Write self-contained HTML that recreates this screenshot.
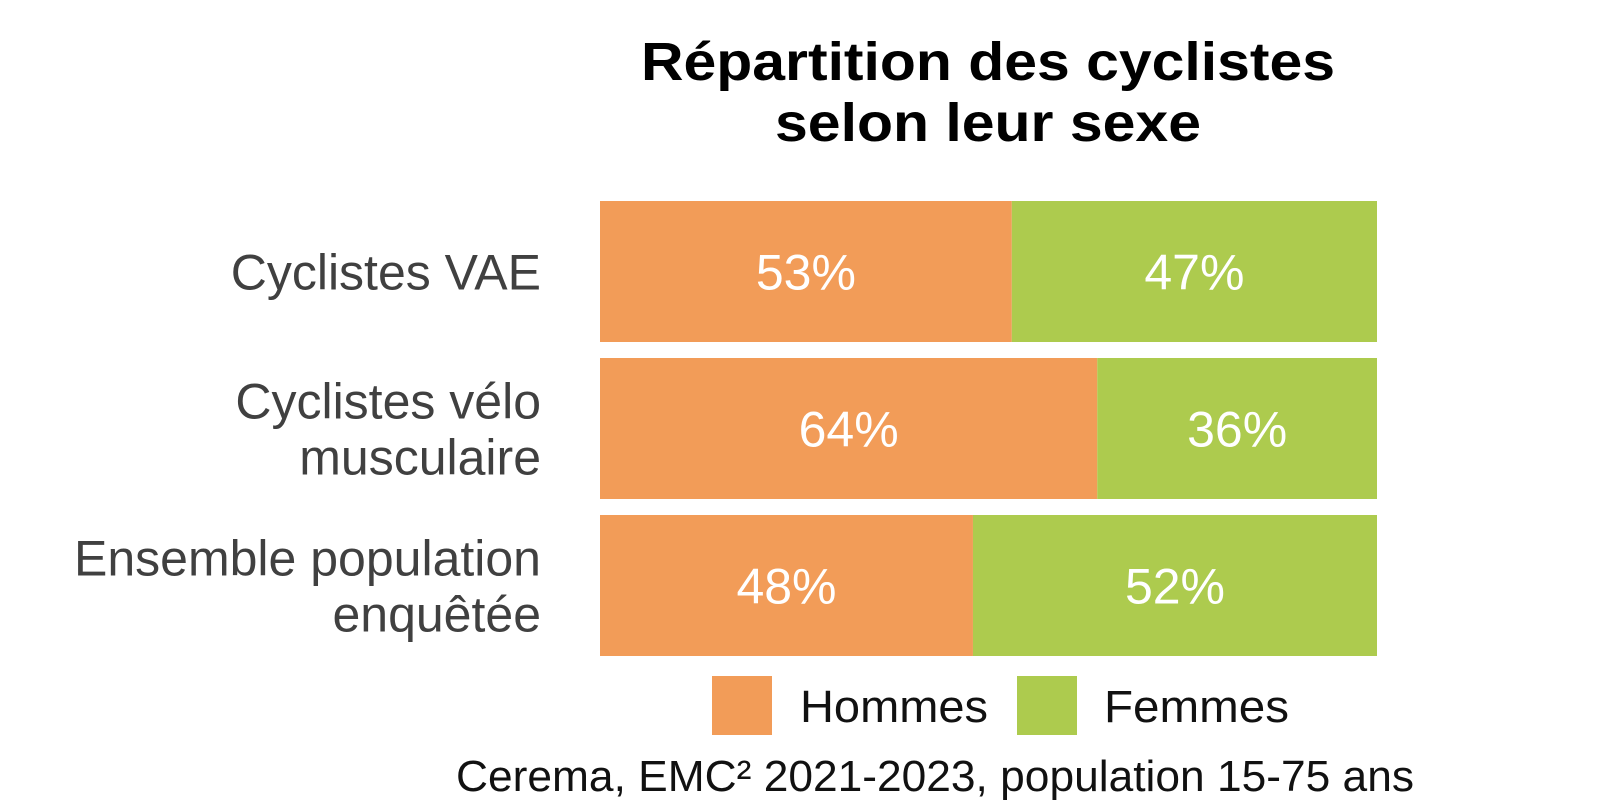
<!DOCTYPE html>
<html><head><meta charset="utf-8"><style>
html,body{margin:0;padding:0;background:#fff;}
svg{display:block;font-family:"Liberation Sans",Arial,sans-serif;}
</style></head><body>
<svg id="chart" width="1600" height="801" viewBox="0 0 1600 801">
<g>
<text x="988" y="80" text-anchor="middle" font-size="54" font-weight="bold" fill="#000" textLength="694" lengthAdjust="spacingAndGlyphs">Répartition des cyclistes</text>
<text x="988" y="141" text-anchor="middle" font-size="54" font-weight="bold" fill="#000" textLength="426" lengthAdjust="spacingAndGlyphs">selon leur sexe</text>
</g>
<g id="bars"></g>
<g id="labels"></g>
<g>
<rect x="712" y="676" width="60" height="59" fill="#F29C58"/>
<text x="800" y="722" font-size="45" fill="#111" textLength="188" lengthAdjust="spacingAndGlyphs">Hommes</text>
<rect x="1017" y="676" width="60" height="59" fill="#ADCB4E"/>
<text x="1104" y="722" font-size="45" fill="#111" textLength="185" lengthAdjust="spacingAndGlyphs">Femmes</text>
</g>
<text x="935" y="791" text-anchor="middle" font-size="44" fill="#111" textLength="958" lengthAdjust="spacingAndGlyphs">Cerema, EMC² 2021-2023, population 15-75 ans</text>
</svg>
<script>
const categories = [["Cyclistes VAE"], ["Cyclistes vélo", "musculaire"], ["Ensemble population", "enquêtée"]];
const hommes = [53, 64, 48];
const femmes = [47, 36, 52];
const NS = "http://www.w3.org/2000/svg";
const X0 = 600, X1 = 1377, ROW0 = 201, ROWSTEP = 157, BARH = 141;
function xScale(v){ return X0 + (X1 - X0) * v / 100; }
function yRow(i){ return ROW0 + i * ROWSTEP; }
const bars = document.getElementById('bars');
const labels = document.getElementById('labels');
function mk(tag, attrs){ const e = document.createElementNS(NS, tag); for (const k in attrs) e.setAttribute(k, attrs[k]); return e; }
categories.forEach((cat, i) => {
  const y = yRow(i);
  const total = hommes[i] + femmes[i];
  const split = xScale(hommes[i] / total * 100);
  const r1 = mk('rect', {x: X0, y: y, width: split - X0, height: BARH, fill: '#F29C58'});
  
  
  bars.appendChild(r1);
  const r2 = mk('rect', {x: split, y: y, width: X1 - split, height: BARH, fill: '#ADCB4E'});
  
  
  bars.appendChild(r2);
  const cy = y + BARH / 2 + 18;
  const t1 = mk('text', {x: (X0 + split) / 2, y: cy, 'text-anchor': 'middle', 'font-size': 50, fill: '#fff'});
  t1.textContent = hommes[i] + '%';
  
  
  bars.appendChild(t1);
  const t2 = mk('text', {x: (split + X1) / 2, y: cy, 'text-anchor': 'middle', 'font-size': 50, fill: '#fff'});
  t2.textContent = femmes[i] + '%';
  
  
  bars.appendChild(t2);
  const mid = y + BARH / 2;
  const n = cat.length;
  cat.forEach((line, j) => {
    const ly = mid + 18 + (j - (n - 1) / 2) * 56;
    const t = mk('text', {x: 541, y: ly, 'text-anchor': 'end', 'font-size': 50, fill: '#404040'});
    t.textContent = line;
    
    
    labels.appendChild(t);
  });
});
</script>
</body></html>
